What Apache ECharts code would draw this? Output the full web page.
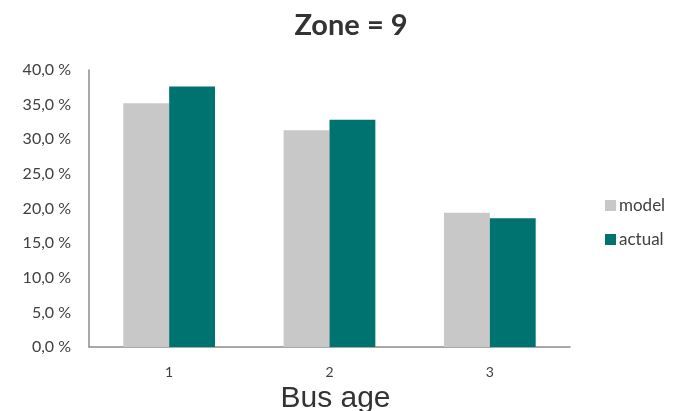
<!DOCTYPE html>
<html>
<head>
<meta charset="utf-8">
<script src="https://cdn.jsdelivr.net/npm/echarts@6/dist/echarts.min.js"></script>
<style>
  html, body { margin: 0; padding: 0; background: #fff; }
  #chart { width: 674px; height: 411px; }
</style>
</head>
<body>
<div id="chart"></div>
<script>
// Share of buses by age group, zone 9
const categories = ['1', '2', '3'];
const modelValues = [35.2, 31.3, 19.4];
const actualValues = [37.6, 32.8, 18.6];
const seriesNames = ['model', 'actual'];

const chart = echarts.init(document.getElementById('chart'));
const font = 'Lato, "Open Sans", sans-serif';

chart.setOption({
  animation: false,
  title: {
    text: 'Zone = 9',
    left: 346,
    top: 6,
    textAlign: 'center',
    textStyle: { fontFamily: font, fontSize: 29, fontWeight: 'bold', color: '#333' }
  },
  legend: {
    orient: 'vertical',
    left: 600,
    top: 192,
    itemWidth: 11,
    itemHeight: 11,
    itemGap: 17,
    icon: 'rect',
    data: seriesNames,
    textStyle: { fontFamily: font, fontSize: 17, color: '#404040', padding: [0, 0, 0, -2] }
  },
  grid: { left: 89, right: 104, top: 70, bottom: 64, outerBoundsMode: 'none' },
  xAxis: {
    type: 'category',
    data: categories,
    name: 'Bus age',
    nameLocation: 'middle',
    nameGap: 30,
    nameTextStyle: {
      fontFamily: '"Liberation Sans", Arial, sans-serif', fontSize: 30, color: '#333',
      padding: [0, 0, 0, 12]
    },
    axisLine: { lineStyle: { color: '#8c8c8c', width: 1.5 } },
    axisTick: { show: false },
    axisLabel: { fontFamily: font, fontSize: 14, color: '#404040', margin: 18 }
  },
  yAxis: {
    type: 'value',
    min: 0,
    max: 40,
    interval: 5,
    axisLine: { show: true, lineStyle: { color: '#8c8c8c', width: 1.5 } },
    axisTick: { show: false },
    splitLine: { show: false },
    axisLabel: {
      fontFamily: font, fontSize: 16, color: '#404040', margin: 18,
      formatter: v => v.toFixed(1).replace('.', ',') + ' %'
    }
  },
  series: [
    {
      name: seriesNames[0],
      type: 'bar',
      data: modelValues,
      barWidth: '28.6%',
      barGap: '0%',
      itemStyle: { color: '#c8c8c8' }
    },
    {
      name: seriesNames[1],
      type: 'bar',
      data: actualValues,
      barWidth: '28.6%',
      itemStyle: { color: '#007370' }
    }
  ]
});
</script>
</body>
</html>
